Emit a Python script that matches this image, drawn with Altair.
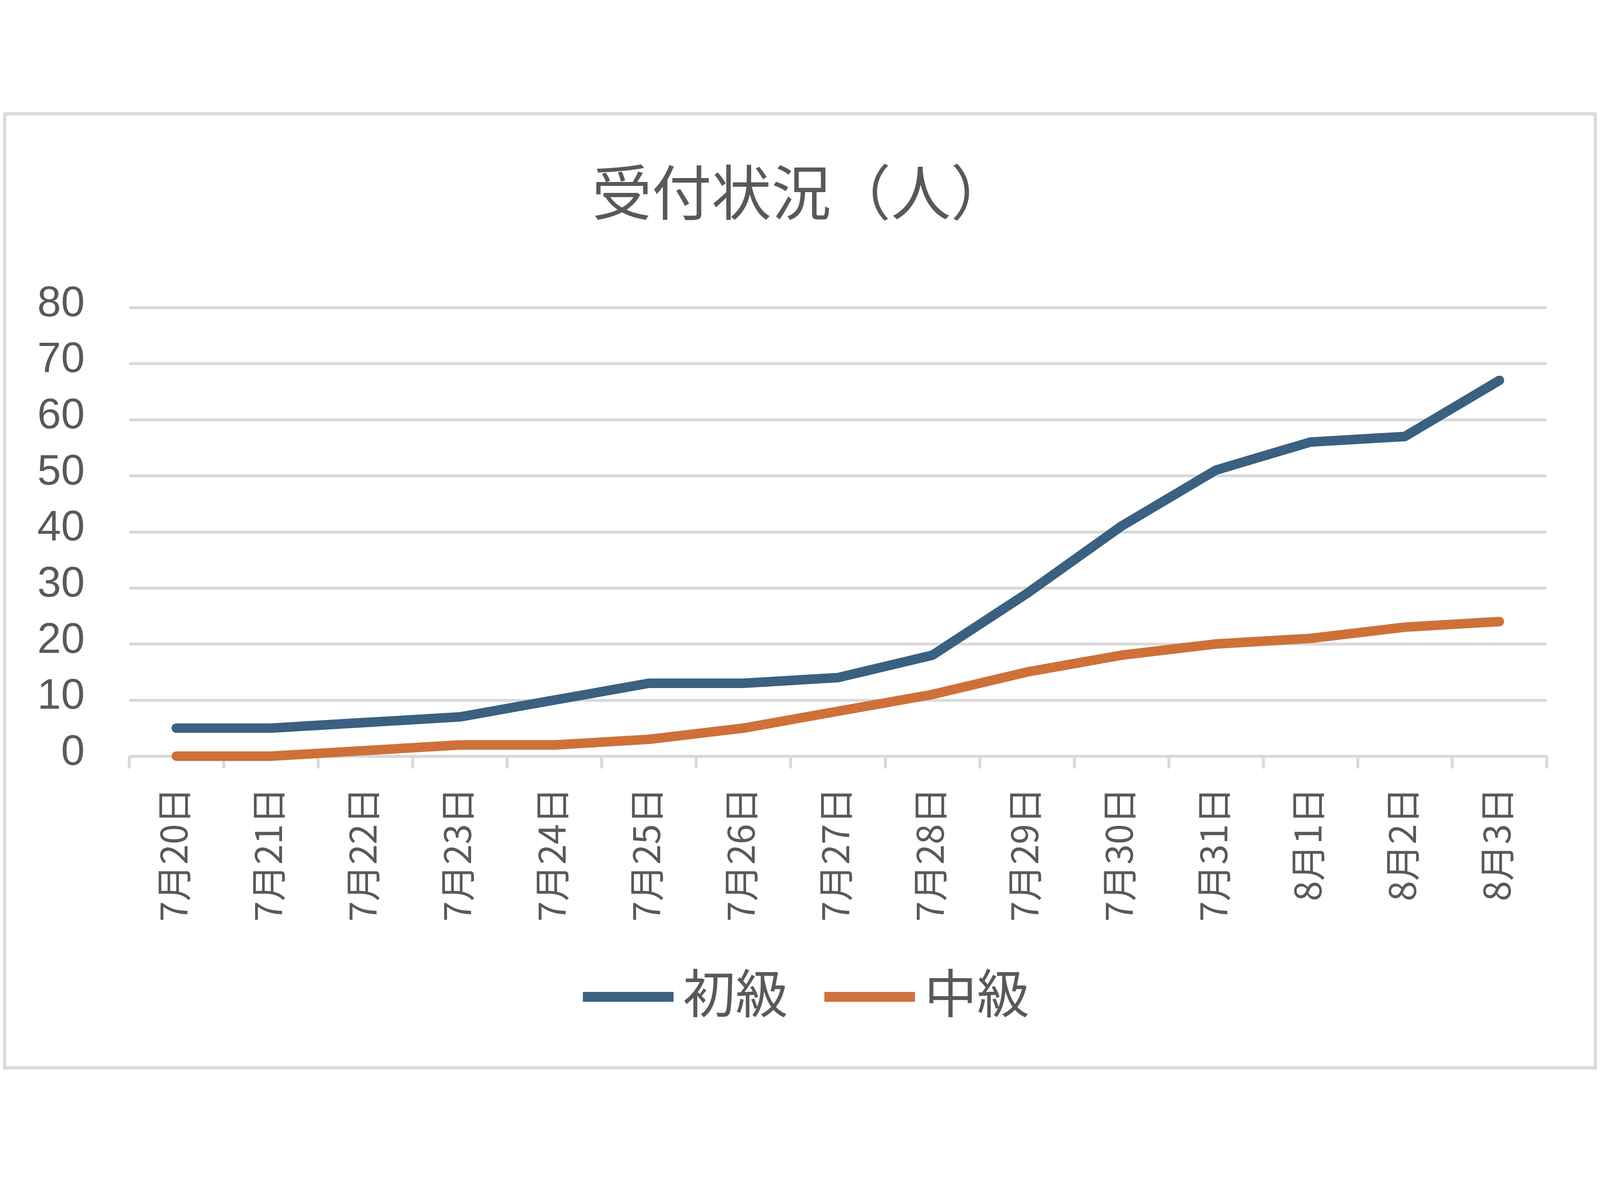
import altair as alt
import pandas as pd

# 受付状況 daily counts
dates = ['7月20日', '7月21日', '7月22日', '7月23日', '7月24日', '7月25日', '7月26日',
         '7月27日', '7月28日', '7月29日', '7月30日', '7月31日', '8月1日', '8月2日', '8月3日']
beginner = [5, 5, 6, 7, 10, 13, 13, 14, 18, 29, 41, 51, 56, 57, 67]
intermediate = [0, 0, 1, 2, 2, 3, 5, 8, 11, 15, 18, 20, 21, 23, 24]
series_names = ['初級', '中級']
series_colors = ['#3A6082', '#CE7139']
y_ticks = [0, 10, 20, 30, 40, 50, 60, 70, 80]
title_text = '受付状況（人）'

FONT = 'Noto Sans CJK JP'
TEXT = '#595959'
GRID = '#D9D9D9'

W, H = 4456, 1411

df = pd.concat([
    pd.DataFrame({'date': dates, 'count': beginner, 'series': series_names[0]}),
    pd.DataFrame({'date': dates, 'count': intermediate, 'series': series_names[1]}),
])

lines = alt.Chart(df).mark_line(strokeWidth=30, strokeCap='round', strokeJoin='round').encode(
    x=alt.X('date:N', sort=dates, bandPosition=0.5,
            scale=alt.Scale(type='band', paddingInner=0, paddingOuter=0),
            axis=alt.Axis(title=None, labelAngle=-90, labelFontSize=115, labelColor=TEXT,
                          labelFont=FONT, labelPadding=60, labelLimit=0, tickBand='extent',
                          tickSize=38, tickWidth=9, tickColor=GRID, domainColor=GRID,
                          domainWidth=9, grid=False)),
    y=alt.Y('count:Q', scale=alt.Scale(domain=[0, 80]),
            axis=alt.Axis(title=None, values=y_ticks, labelFontSize=134, labelColor=TEXT,
                          labelFont='Liberation Sans', labelPadding=140, labelOffset=-13,
                          domain=False, ticks=False, gridColor=GRID, gridWidth=9)),
    color=alt.Color('series:N', sort=series_names,
                    scale=alt.Scale(domain=series_names, range=series_colors),
                    legend=alt.Legend(title=None, orient='none', direction='horizontal',
                                      legendX=1411, legendY=2010,
                                      symbolType='stroke', symbolSize=81225,
                                      symbolStrokeWidth=31, labelFontSize=165,
                                      labelFont=FONT, labelColor=TEXT, labelOffset=14,
                                      columnPadding=52, labelLimit=0)),
)

# chart title, drawn inside the outer frame
title = alt.Chart(alt.Data(values=[{'t': title_text}])).mark_text(
    font=FONT, fontSize=188, color=TEXT, align='center', baseline='middle'
).encode(text='t:N', x=alt.value(2113), y=alt.value(-346))

# outer chart frame
frame = alt.Chart(alt.Data(values=[{}])).mark_rect(
    fill='transparent', stroke=GRID, strokeWidth=10
).encode(
    x=alt.value(-391), x2=alt.value(W + 153),
    y=alt.value(-609), y2=alt.value(H + 980),
)

chart = alt.layer(frame, title, lines).properties(
    width=W, height=H, padding=0,
).configure_view(strokeWidth=0)

chart.save('out.html', embed_options={'renderer': 'svg', 'actions': False})
